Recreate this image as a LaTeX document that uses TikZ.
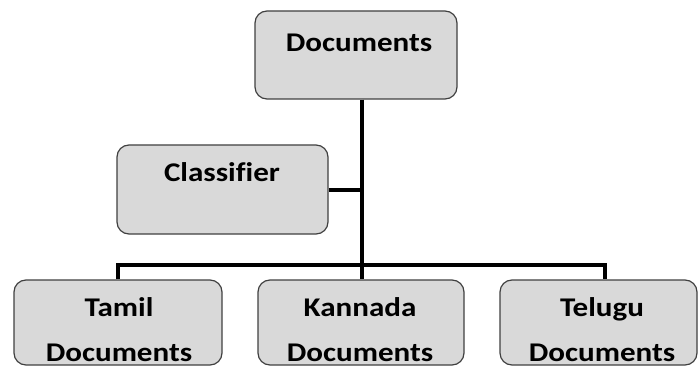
\documentclass[tikz,border=0pt]{standalone}
\usepackage{fontspec}
\usepackage{graphicx}
\setmainfont[Ligatures={NoCommon}]{Carlito}
\newcommand\wtxt[1]{\scalebox{1.15}[1]{#1}}
\begin{document}
\begin{tikzpicture}[x=1pt,y=1pt,
  box/.style={draw=black!75,line width=1.2pt,fill=black!15,rounded corners=12pt,minimum width=#1,inner sep=0pt},
  lbl/.style={font=\bfseries\fontsize{27}{27}\selectfont,inner sep=0pt,anchor=base},
  conn/.style={line width=3.5pt,black}]
\useasboundingbox (0,0) rectangle (698,367);
\node[box=202pt,minimum height=88pt] (docs) at (356,312) {};
\node[box=211pt,minimum height=89pt] (cls) at (222.5,177.5) {};
\node[box=208pt,minimum height=85pt] (tam) at (118,44.5) {};
\node[box=206pt,minimum height=85pt] (kan) at (361,44.5) {};
\node[box=197pt,minimum height=85pt] (tel) at (598.5,44.5) {};
\node[lbl] (tdocs) at (359,315) {\wtxt{Documents}};
\node[lbl] (tcls) at (222,185) {\wtxt{Classifier}};
\node[lbl] (ttam1) at (119,51) {\wtxt{Tamil}};
\node[lbl] (ttam2) at (119,6) {\wtxt{Documents}};
\node[lbl] (tkan1) at (360,51) {\wtxt{Kannada}};
\node[lbl] (tkan2) at (360,6) {\wtxt{Documents}};
\node[lbl] (ttel1) at (602,51) {\wtxt{Telugu}};
\node[lbl] (ttel2) at (602,6) {\wtxt{Documents}};
\coordinate (top) at (362,0 |- docs.south);
\coordinate (mid) at (362,177);
\coordinate (bar) at (362,102);
\draw[conn] (top) -- (bar);
\draw[conn] (cls.east |- mid) -- (mid);
\draw[conn] (tam.north -| 118,0) |- (bar) -| (tel.north -| 605,0);
\draw[conn] (bar) -- (bar |- kan.north);
\end{tikzpicture}
\end{document}
